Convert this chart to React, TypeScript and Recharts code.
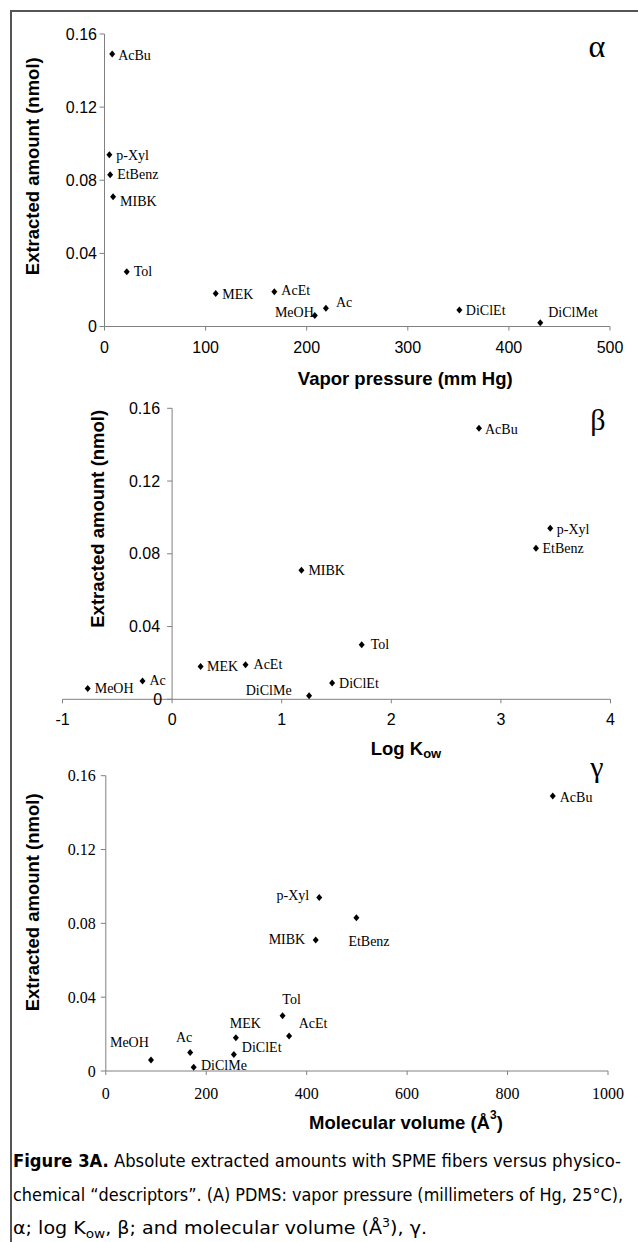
import { ScatterChart, Scatter, XAxis, YAxis, ReferenceLine } from 'recharts';

const SANS = '"Liberation Sans", Arial, sans-serif';
const SERIF = '"Liberation Serif", "Times New Roman", serif';
const NARROW = '"Liberation Sans Narrow", "DejaVu Sans Condensed", "Arial Narrow", sans-serif';
const AXIS = '#808080';

// compounds, same order in every array below
const compounds = ['AcBu', 'p-Xyl', 'EtBenz', 'MIBK', 'Tol', 'MEK', 'AcEt', 'MeOH', 'Ac', 'DiClEt', 'DiClMe'];
const extractedNmol = [0.149, 0.094, 0.083, 0.071, 0.03, 0.018, 0.019, 0.006, 0.01, 0.009, 0.002];
const vaporPressure = [7.6, 4.8, 5.6, 8.5, 22, 110, 168, 208, 219, 351, 431];
const logKow = [2.8, 3.45, 3.32, 1.18, 1.73, 0.26, 0.67, -0.77, -0.27, 1.46, 1.25];
const molecularVolume = [890, 425, 499, 418, 352, 259, 365, 90, 168, 255, 175];

const amountTicks = [0, 0.04, 0.08, 0.12, 0.16];
const vaporTicks = [0, 100, 200, 300, 400, 500];
const kowTicks = [-1, 0, 1, 2, 3, 4];
const volumeTicks = [0, 200, 400, 600, 800, 1000];

// panel alpha writes dichloromethane as DiClMet
const alphaRename: Record<string, string> = { DiClMe: 'DiClMet' };

const alphaData = compounds.map((name, i) => ({ name, x: vaporPressure[i], y: extractedNmol[i] }));
const betaData = compounds.map((name, i) => ({ name, x: logKow[i], y: extractedNmol[i] }));
const gammaData = compounds.map((name, i) => ({ name, x: molecularVolume[i], y: extractedNmol[i] }));

type Place = ['start' | 'middle' | 'end', number, number];

const alphaPlaces: Record<string, Place> = {
  AcBu: ['start', 6, 1],
  'p-Xyl': ['start', 7, 1],
  EtBenz: ['start', 7, 0],
  MIBK: ['start', 7, 5],
  Tol: ['start', 7, 0],
  MEK: ['start', 6.5, 1],
  AcEt: ['start', 7, -1],
  MeOH: ['end', -1, -3],
  Ac: ['start', 10, -6],
  DiClEt: ['start', 6.5, 0],
  DiClMe: ['start', 8, -10],
};

const betaPlaces: Record<string, Place> = {
  AcBu: ['start', 6, 1],
  'p-Xyl': ['start', 6.5, 1],
  EtBenz: ['start', 6.5, 0],
  MIBK: ['start', 7, 0],
  Tol: ['start', 9, 0],
  MEK: ['start', 6.5, 0],
  AcEt: ['start', 8, -0.5],
  MeOH: ['start', 7, 0],
  Ac: ['start', 7, -1],
  DiClEt: ['start', 7, 0.5],
  DiClMe: ['end', -17.5, -5],
};

const gammaPlaces: Record<string, Place> = {
  AcBu: ['start', 7, 1],
  'p-Xyl': ['end', -10, -2],
  EtBenz: ['middle', 12.6, 24],
  MIBK: ['end', -10.5, 0],
  Tol: ['middle', 9, -16],
  AcEt: ['middle', 24, -12],
  MEK: ['middle', 9.5, -14],
  DiClEt: ['start', 8, -7],
  Ac: ['middle', -6, -15],
  MeOH: ['middle', -21.6, -17],
  DiClMe: ['start', 7.3, -2],
};

const fmtAmount = (v: number) => (v === 0 ? '0' : v.toFixed(2));

function diamondShape(places: Record<string, Place>, rename: Record<string, string> = {}) {
  return (props: any) => {
    const { cx, cy, payload } = props;
    const [anchor, dx, dy] = places[payload.name] ?? ['start', 7, 0];
    return (
      <g>
        <path d={`M${cx},${cy - 3.5}L${cx + 3},${cy}L${cx},${cy + 3.5}L${cx - 3},${cy}Z`} fill="#000" />
        <text
          x={cx + dx}
          y={cy + dy}
          textAnchor={anchor}
          dominantBaseline="central"
          fontFamily={SERIF}
          fontSize={14}
          fill="#000"
        >
          {rename[payload.name] ?? payload.name}
        </text>
      </g>
    );
  };
}

function xTitle(content: React.ReactNode, dx: number, dy: number) {
  return (props: any) => {
    const vb = props.viewBox;
    return (
      <text
        x={vb.x + vb.width / 2 + dx}
        y={vb.y + dy}
        textAnchor="middle"
        dominantBaseline="central"
        fontFamily={SANS}
        fontWeight="bold"
        fontSize={18.5}
        fill="#000"
      >
        {content}
      </text>
    );
  };
}

// dx measured from the plot's left edge
function yTitle(dx: number, dy: number) {
  return (props: any) => {
    const vb = props.viewBox;
    const cx = vb.x + vb.width + dx;
    const cy = vb.y + vb.height / 2 + dy;
    return (
      <text
        x={cx}
        y={cy}
        transform={`rotate(-90, ${cx}, ${cy})`}
        textAnchor="middle"
        dominantBaseline="central"
        fontFamily={SANS}
        fontWeight="bold"
        fontSize={18.5}
        fill="#000"
      >
        Extracted amount (nmol)
      </text>
    );
  };
}

const sansTick = { fill: '#000', fontSize: 16, fontFamily: SANS };
const serifTick = { fill: '#000', fontSize: 16, fontFamily: SERIF };

const Y_W = 60;
const X_H = 30;

// beta panel: the y axis sits at log Kow = 0, not at the left edge
const betaMargin = { top: 28.3, right: 27.5, bottom: 80.7 - X_H, left: 62.5 - Y_W };
const betaDomain: [number, number] = [-1, 4];
const betaPlotW = 638 - betaMargin.left - Y_W - betaMargin.right;
const betaZeroShift = (betaPlotW * (0 - betaDomain[0])) / (betaDomain[1] - betaDomain[0]);

const betaYTick = (props: any) => {
  const { x, y, payload } = props;
  const ax = x + betaZeroShift;
  return (
    <g>
      <line x1={ax - 5} y1={y} x2={ax} y2={y} stroke={AXIS} />
      <text
        x={ax - (payload.value === 0 ? 10 : 12)}
        y={y}
        textAnchor="end"
        dominantBaseline="central"
        fontFamily={SANS}
        fontSize={16}
        fill="#000"
      >
        {fmtAmount(payload.value)}
      </text>
    </g>
  );
};

export default function App() {
  return (
    <div
      style={{
        position: 'absolute',
        left: 0,
        top: 0,
        width: 638,
        height: 1242,
        background: '#fff',
        overflow: 'hidden',
      }}
    >
      {/* alpha: vapor pressure */}
      <div style={{ position: 'absolute', left: 0, top: 0 }}>
        <ScatterChart
          width={638}
          height={400}
          margin={{ top: 34, right: 28, bottom: 73.5 - X_H, left: 104.5 - Y_W }}
        >
          <XAxis
            type="number"
            dataKey="x"
            domain={[0, 500]}
            ticks={vaporTicks}
            height={X_H}
            tickSize={4}
            tickMargin={11}
            stroke={AXIS}
            tick={sansTick}
            label={xTitle('Vapor pressure (mm Hg)', 48, 51.5)}
          />
          <YAxis
            type="number"
            dataKey="y"
            domain={[0, 0.16]}
            ticks={amountTicks}
            tickFormatter={fmtAmount}
            width={Y_W}
            tickSize={5}
            tickMargin={2.5}
            stroke={AXIS}
            tick={sansTick}
            label={yTitle(-72, -14)}
          />
          <Scatter data={alphaData} shape={diamondShape(alphaPlaces, alphaRename)} isAnimationActive={false} />
        </ScatterChart>
      </div>

      {/* beta: log Kow */}
      <div style={{ position: 'absolute', left: 0, top: 380 }}>
        <ScatterChart width={638} height={400} margin={betaMargin}>
          <XAxis
            type="number"
            dataKey="x"
            domain={betaDomain}
            ticks={kowTicks}
            height={X_H}
            tickSize={4}
            tickMargin={10.5}
            stroke={AXIS}
            tick={sansTick}
            label={xTitle(
              <>
                <tspan>Log K</tspan>
                <tspan fontSize={13} dy={5}>
                  ow
                </tspan>
              </>,
              69.5,
              48.7
            )}
          />
          <YAxis
            type="number"
            dataKey="y"
            domain={[0, 0.16]}
            ticks={amountTicks}
            width={Y_W}
            tickSize={0}
            tickMargin={0}
            axisLine={false}
            tickLine={false}
            tick={betaYTick}
            label={yTitle(35.5, -35)}
          />
          <ReferenceLine x={0} stroke={AXIS} />
          <Scatter data={betaData} shape={diamondShape(betaPlaces)} isAnimationActive={false} />
        </ScatterChart>
      </div>

      {/* gamma: molecular volume */}
      <div style={{ position: 'absolute', left: 0, top: 750 }}>
        <ScatterChart
          width={638}
          height={400}
          margin={{ top: 25.7, right: 30, bottom: 79 - X_H, left: 105.8 - Y_W }}
        >
          <XAxis
            type="number"
            dataKey="x"
            domain={[0, 1000]}
            ticks={volumeTicks}
            height={X_H}
            tickSize={4}
            tickMargin={13}
            stroke={AXIS}
            tick={serifTick}
            label={xTitle(
              <>
                <tspan>Molecular volume (Å</tspan>
                <tspan fontSize={12} dy={-7}>
                  3
                </tspan>
                <tspan dy={7}>)</tspan>
              </>,
              49,
              51
            )}
          />
          <YAxis
            type="number"
            dataKey="y"
            domain={[0, 0.16]}
            ticks={amountTicks}
            tickFormatter={fmtAmount}
            width={Y_W}
            tickSize={5}
            tickMargin={5}
            stroke={AXIS}
            tick={serifTick}
            label={yTitle(-73.3, -21)}
          />
          <Scatter data={gammaData} shape={diamondShape(gammaPlaces)} isAnimationActive={false} />
        </ScatterChart>
      </div>

      {/* frame, panel letters, caption */}
      <svg
        width={638}
        height={1242}
        style={{ position: 'absolute', left: 0, top: 0, pointerEvents: 'none' }}
      >
        <rect x={11} y={11} width={640} height={1240} fill="none" stroke="#555" strokeWidth={2} />
        <text x={597} y={57} textAnchor="middle" fontFamily={SERIF} fontSize={32}>
          α
        </text>
        <text x={598} y={430} textAnchor="middle" fontFamily={SERIF} fontSize={30}>
          β
        </text>
        <text x={597} y={777} textAnchor="middle" fontFamily={SERIF} fontSize={30}>
          γ
        </text>
        <g fontFamily={NARROW} fontSize={17.5} fill="#000">
          <text x={13} y={1167} textLength={608} lengthAdjust="spacingAndGlyphs">
            <tspan fontWeight="bold">Figure 3A.</tspan>
            {' Absolute extracted amounts with SPME fibers versus physico-'}
          </text>
          <text x={13} y={1201} textLength={610} lengthAdjust="spacingAndGlyphs">
            chemical “descriptors”. (A) PDMS: vapor pressure (millimeters of Hg, 25°C),
          </text>
          <text x={13} y={1234} textLength={414} lengthAdjust="spacingAndGlyphs">
            <tspan>α; log K</tspan>
            <tspan fontSize={12.5} dy={4}>
              ow
            </tspan>
            <tspan dy={-4}>, β; and molecular volume (Å</tspan>
            <tspan fontSize={11.5} dy={-7}>
              3
            </tspan>
            <tspan dy={7}>), γ.</tspan>
          </text>
        </g>
      </svg>
    </div>
  );
}
